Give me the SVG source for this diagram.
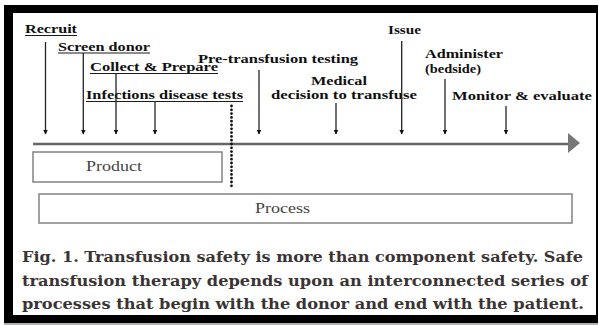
<svg xmlns="http://www.w3.org/2000/svg" width="599" height="325" viewBox="0 0 599 325">
<style>
.lbl{font-family:"Liberation Serif","Times New Roman",serif;font-weight:bold;font-size:13.5px;fill:#111}
.ul{stroke:#1a1a1a;stroke-width:1.2}
.arr{stroke:#222;stroke-width:1.3;fill:none;marker-end:url(#ah)}
.box{fill:#fff;stroke:#8a8a8a;stroke-width:1.6}
.boxt{font-family:"Liberation Serif","Times New Roman",serif;font-size:14.5px;fill:#444}
.cap{font-family:"DejaVu Serif","Liberation Serif",serif;font-weight:bold;font-size:15.5px;fill:#3a3434}
</style>
<defs>
<marker id="ah" viewBox="0 0 10 10" refX="9" refY="5" markerWidth="5" markerHeight="5" markerUnits="userSpaceOnUse" orient="auto">
<path d="M0,0 L10,5 L0,10 z" fill="#111"/>
</marker>
</defs>
<rect x="0" y="0" width="599" height="325" fill="#fff"/>
<rect x="4" y="5" width="594" height="318" fill="#000"/>
<rect x="13" y="13" width="583" height="302" fill="#fff"/>
<line x1="4" y1="324" x2="598" y2="324" stroke="#999" stroke-width="1.5"/>

<g id="timeline">
<line x1="33" y1="144" x2="569" y2="144" stroke="#666" stroke-width="2.5"/>
<path d="M568,133 L580,143 L568,153 z" fill="#777"/>
</g>

<g id="recruit"><text class="lbl" x="25" y="33" textLength="52" lengthAdjust="spacingAndGlyphs">Recruit</text><line class="ul" x1="25" y1="35.5" x2="77" y2="35.5"/></g>
<g id="screen-donor"><text class="lbl" x="58" y="50.5" textLength="92" lengthAdjust="spacingAndGlyphs">Screen donor</text><line class="ul" x1="58" y1="53" x2="150" y2="53"/></g>
<g id="collect-prepare"><text class="lbl" x="90" y="71" textLength="128" lengthAdjust="spacingAndGlyphs">Collect &amp; Prepare</text><line class="ul" x1="90" y1="73.5" x2="218" y2="73.5"/></g>
<g id="infection-tests"><text class="lbl" x="86" y="99" textLength="157" lengthAdjust="spacingAndGlyphs">Infections disease tests</text><line class="ul" x1="86" y1="101.5" x2="243" y2="101.5"/></g>
<g id="pre-transfusion"><text class="lbl" x="198" y="62.5" textLength="160" lengthAdjust="spacingAndGlyphs">Pre-transfusion testing</text></g>
<g id="medical-decision"><text class="lbl" x="339" y="85" text-anchor="middle" textLength="56" lengthAdjust="spacingAndGlyphs">Medical</text><text class="lbl" x="271" y="99" textLength="146" lengthAdjust="spacingAndGlyphs">decision to transfuse</text></g>
<g id="issue"><text class="lbl" x="388" y="34" textLength="33" lengthAdjust="spacingAndGlyphs">Issue</text></g>
<g id="administer"><text class="lbl" x="425" y="58" textLength="78" lengthAdjust="spacingAndGlyphs">Administer</text><text class="lbl" x="425" y="73" textLength="56" lengthAdjust="spacingAndGlyphs">(bedside)</text></g>
<g id="monitor"><text class="lbl" x="452" y="99.5" textLength="140" lengthAdjust="spacingAndGlyphs">Monitor &amp; evaluate</text></g>

<g id="connectors">
<line class="arr" x1="45.5" y1="42" x2="45.5" y2="134"/>
<line class="arr" x1="83.3" y1="53" x2="83.3" y2="134"/>
<line class="arr" x1="116" y1="73.5" x2="116" y2="134"/>
<line class="arr" x1="155" y1="101.5" x2="155" y2="134"/>
<line class="arr" x1="259" y1="70" x2="259" y2="134"/>
<line class="arr" x1="336" y1="103" x2="336" y2="134"/>
<line class="arr" x1="401.7" y1="41" x2="401.7" y2="134"/>
<line class="arr" x1="445" y1="79" x2="445" y2="134"/>
<line class="arr" x1="506" y1="106" x2="506" y2="134"/>
<line x1="231.5" y1="106" x2="231.5" y2="187" stroke="#111" stroke-width="2.8" stroke-linecap="round" stroke-dasharray="0 3.8"/>
</g>

<g id="product"><rect class="box" x="33" y="152" width="189" height="30"/><text class="boxt" x="86" y="170.5" textLength="56" lengthAdjust="spacingAndGlyphs">Product</text></g>
<g id="process"><rect class="box" x="39" y="194" width="533" height="29"/><text class="boxt" x="255" y="213" textLength="55" lengthAdjust="spacingAndGlyphs">Process</text></g>

<g id="caption">
<text class="cap" x="22" y="262" textLength="561" lengthAdjust="spacingAndGlyphs">Fig. 1. Transfusion safety is more than component safety. Safe</text>
<text class="cap" x="22" y="285.5" textLength="566" lengthAdjust="spacingAndGlyphs">transfusion therapy depends upon an interconnected series of</text>
<text class="cap" x="22" y="309" textLength="562" lengthAdjust="spacingAndGlyphs">processes that begin with the donor and end with the patient.</text>
</g>
</svg>
